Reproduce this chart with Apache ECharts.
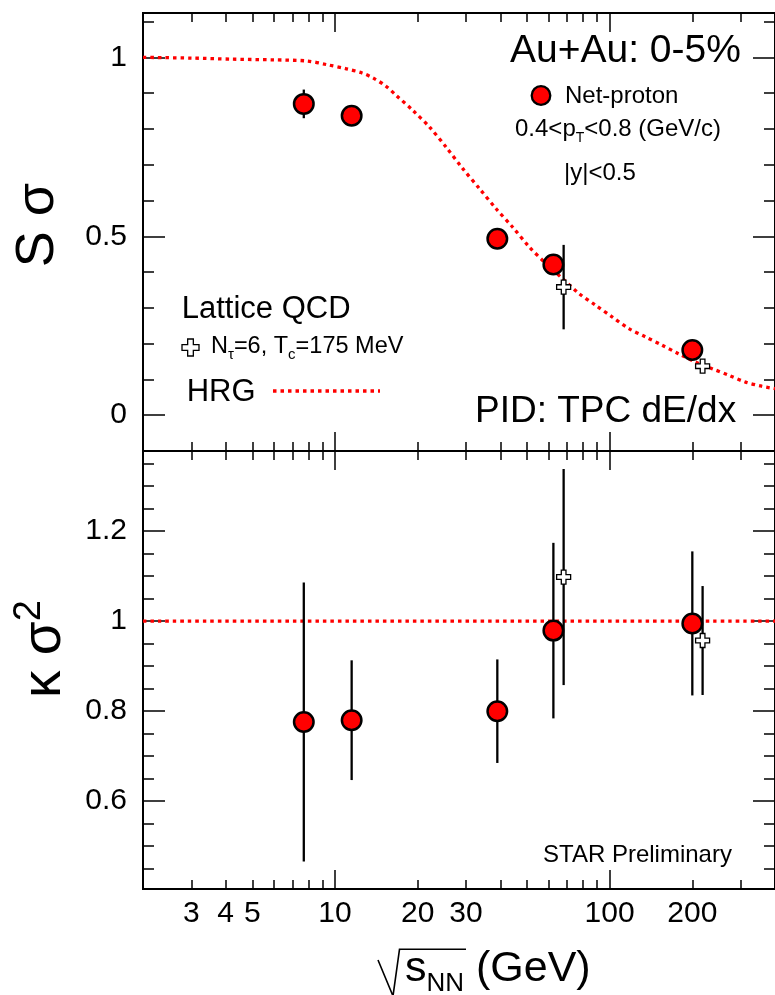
<!DOCTYPE html>
<html>
<head>
<meta charset="utf-8">
<script src="https://cdn.jsdelivr.net/npm/echarts@6.0.0/dist/echarts.min.js"></script>
<style>html,body{margin:0;padding:0;background:#fff;}#chart{width:775px;height:995px;}</style>
</head>
<body>
<div id="chart"></div>
<script>
// ---------------- data ----------------
const energies = [7.7, 11.5, 39, 62.4, 200];
const skewSigma = [0.87, 0.837, 0.493, 0.421, 0.182];
const skewSigmaErr = [0.04, 0.02, 0.02, 0.02, 0.02];
const kurtSigma2 = [0.776, 0.78, 0.80, 0.979, 0.995];
const kurtSigma2Err = [0.31, 0.133, 0.115, 0.195, 0.16];

const latticeEnergies = [68, 218];
const latticeSkew = [0.358, 0.137];
const latticeSkewErr = [0.118, 0];
const latticeKurt = [1.098, 0.957];
const latticeKurtErr = [0.24, 0.121];

const hrgEnergies = [2, 3, 4.2, 6, 7.9, 9.3, 11, 12.5, 13.8, 15.3, 16.7, 19.2, 22.1, 25.4, 29.2, 33.6, 38.6, 44.3, 51, 58.6, 67.3, 77.4, 89, 102, 117.5, 135, 155, 178, 205, 236, 271, 311, 358, 400];
const hrgSkew = [1.0, 0.998, 0.995, 0.993, 0.99, 0.98, 0.968, 0.957, 0.942, 0.92, 0.894, 0.852, 0.805, 0.749, 0.689, 0.633, 0.577, 0.526, 0.47, 0.424, 0.382, 0.34, 0.307, 0.275, 0.242, 0.219, 0.196, 0.172, 0.149, 0.13, 0.112, 0.093, 0.081, 0.074];
const hrgKurtEnergies = [2, 400];
const hrgKurt = [1, 1];

const xLabelValues = [3, 4, 5, 10, 20, 30, 100, 200];
const xMajorTicks = [10, 100];
const xMinorTicks = [3, 4, 5, 6, 7, 8, 9, 20, 30, 40, 50, 60, 70, 80, 90, 200, 300];
const skewLabelValues = [0, 0.5, 1];
const skewMinorTicks = [0.1, 0.2, 0.3, 0.4, 0.6, 0.7, 0.8, 0.9, 1.1];
const kurtLabelValues = [0.6, 0.8, 1, 1.2];
const kurtMinorTicks = [0.45, 0.5, 0.55, 0.65, 0.7, 0.75, 0.85, 0.9, 0.95, 1.05, 1.1, 1.15, 1.25, 1.3, 1.35];

// ---------------- helpers ----------------
const FF = '"Liberation Sans", Arial, Helvetica, sans-serif';
const RED = '#ff0000';
const zip = (a, b) => a.map((v, i) => [v, b[i]]);
const zip3 = (a, b, c) => a.map((v, i) => [v, b[i], c[i]]);
const crossPath = 'path://M1,0L2,0L2,1L3,1L3,2L2,2L2,3L1,3L1,2L0,2L0,1L1,1Z';

function xAx(g, pos, ticks, len, labels) {
  return {
    type: 'log', logBase: 10, min: 2, max: 400, gridIndex: g, position: pos,
    axisLine: { show: false, onZero: false }, splitLine: { show: false }, minorTick: { show: false },
    axisTick: { show: true, inside: true, length: len, customValues: ticks, lineStyle: { color: '#000', width: 1.5 } },
    axisLabel: labels ? { show: true, customValues: labels, formatter: v => String(v), fontSize: 30, color: '#000', fontFamily: FF, margin: 10 } : { show: false }
  };
}
function yAx(g, pos, ticks, len, labels, min, max) {
  return {
    type: 'value', min, max, gridIndex: g, position: pos,
    axisLine: { show: false, onZero: false }, splitLine: { show: false }, minorTick: { show: false },
    axisTick: { show: true, inside: true, length: len, customValues: ticks, lineStyle: { color: '#000', width: 1.5 } },
    axisLabel: labels ? { show: true, customValues: labels, formatter: v => String(v), fontSize: 30, color: '#000', fontFamily: FF, margin: 16 } : { show: false }
  };
}
function errBars(xi, yi, data) {
  return {
    type: 'custom', xAxisIndex: xi, yAxisIndex: yi, data, z: 3, silent: true,
    encode: { x: 0, y: 1 },
    renderItem(params, api) {
      const x = api.value(0), y = api.value(1), e = api.value(2);
      if (!e) return null;
      const a = api.coord([x, y - e]), b = api.coord([x, y + e]);
      return { type: 'line', shape: { x1: a[0], y1: a[1], x2: b[0], y2: b[1] }, style: { stroke: '#000', lineWidth: 2.3 } };
    }
  };
}
function circles(xi, yi, data) {
  return { type: 'scatter', xAxisIndex: xi, yAxisIndex: yi, data, symbol: 'circle', symbolSize: 19.5, z: 4, silent: true,
    itemStyle: { color: RED, borderColor: '#000', borderWidth: 2.5, opacity: 1 } };
}
function crosses(xi, yi, data) {
  return { type: 'scatter', xAxisIndex: xi, yAxisIndex: yi, data, symbol: crossPath, symbolSize: 14, z: 5, silent: true,
    itemStyle: { color: '#fff', borderColor: '#000', borderWidth: 1.3, opacity: 1 } };
}
function hrgLine(xi, yi, data) {
  return { type: 'line', xAxisIndex: xi, yAxisIndex: yi, data, showSymbol: false, symbol: 'none', smooth: 0.3, z: 2, silent: true,
    lineStyle: { color: RED, width: 3.3, type: [3.5, 4], cap: 'butt' } };
}
const K = 0.3465;
function txt(x, baseline, text, size, extra) {
  return { type: 'text', x, y: baseline - K * size, silent: true, z: 10,
    style: Object.assign({ text, fontSize: size, fontFamily: FF, fill: '#000', align: 'left', verticalAlign: 'middle', lineHeight: size }, extra || {}) };
}
function subStyle(size, mainSize, drop) {
  return { fontSize: size, fontFamily: FF, padding: [2 * (drop + K * (mainSize - size)), 0, 0, 0] };
}
function supStyle(size, mainSize, rise) {
  return { fontSize: size, fontFamily: FF, padding: [0, 0, 2 * (rise - K * (mainSize - size)), 0] };
}
function crossPoints(cx, cy, s) {
  const a = s / 6, b = s / 2;
  return [[cx - a, cy - b], [cx + a, cy - b], [cx + a, cy - a], [cx + b, cy - a], [cx + b, cy + a], [cx + a, cy + a],
          [cx + a, cy + b], [cx - a, cy + b], [cx - a, cy + a], [cx - b, cy + a], [cx - b, cy - a], [cx - a, cy - a]];
}

// grids: upper (S sigma), lower (kappa sigma^2)
const grids = [
  { left: 143, top: 13, width: 634, height: 438, show: true, borderColor: '#000', borderWidth: 2, backgroundColor: 'transparent' },
  { left: 143, top: 451, width: 634, height: 438, show: true, borderColor: '#000', borderWidth: 2, backgroundColor: 'transparent' }
];
const xAxes = [
  xAx(0, 'bottom', xMajorTicks, 19, null), xAx(0, 'bottom', xMinorTicks, 9, null),
  xAx(0, 'top', xMajorTicks, 19, null), xAx(0, 'top', xMinorTicks, 9, null),
  xAx(1, 'bottom', xMajorTicks, 19, xLabelValues), xAx(1, 'bottom', xMinorTicks, 9, null),
  xAx(1, 'top', xMajorTicks, 19, null), xAx(1, 'top', xMinorTicks, 9, null)
];
const yAxes = [
  yAx(0, 'left', skewLabelValues, 22, skewLabelValues, -0.1, 1.124), yAx(0, 'left', skewMinorTicks, 11, null, -0.1, 1.124),
  yAx(0, 'right', skewLabelValues, 22, null, -0.1, 1.124), yAx(0, 'right', skewMinorTicks, 11, null, -0.1, 1.124),
  yAx(1, 'left', kurtLabelValues, 22, kurtLabelValues, 0.405, 1.378), yAx(1, 'left', kurtMinorTicks, 11, null, 0.405, 1.378),
  yAx(1, 'right', kurtLabelValues, 22, null, 0.405, 1.378), yAx(1, 'right', kurtMinorTicks, 11, null, 0.405, 1.378)
];

const series = [
  hrgLine(0, 0, zip(hrgEnergies, hrgSkew)),
  errBars(0, 0, zip3(energies, skewSigma, skewSigmaErr)),
  errBars(0, 0, zip3(latticeEnergies, latticeSkew, latticeSkewErr)),
  circles(0, 0, zip(energies, skewSigma)),
  crosses(0, 0, zip(latticeEnergies, latticeSkew)),
  hrgLine(4, 4, zip(hrgKurtEnergies, hrgKurt)),
  errBars(4, 4, zip3(energies, kurtSigma2, kurtSigma2Err)),
  errBars(4, 4, zip3(latticeEnergies, latticeKurt, latticeKurtErr)),
  circles(4, 4, zip(energies, kurtSigma2)),
  crosses(4, 4, zip(latticeEnergies, latticeKurt))
];

const graphic = [
  txt(510, 65, 'Au+Au: 0-5%', 39),
  { type: 'circle', shape: { cx: 541, cy: 95.5, r: 9.3 }, style: { fill: RED, stroke: '#000', lineWidth: 2.3 }, silent: true, z: 10 },
  txt(565, 105, 'Net-proton', 24),
  txt(515, 137.5, '0.4<p{sub|T}<0.8 (GeV/c)', 24, { rich: { sub: subStyle(14, 24, 5) } }),
  txt(564, 181.7, '|y|<0.5', 24),
  txt(475, 425, 'PID: TPC dE/dx', 37),
  txt(181.7, 320, 'Lattice QCD', 31),
  { type: 'polygon', shape: { points: crossPoints(190.5, 347.5, 17) }, style: { fill: '#fff', stroke: '#000', lineWidth: 1.3 }, silent: true, z: 10 },
  txt(211, 355, 'N{sub|τ}=6, T{sub|c}=175 MeV', 23.5, { rich: { sub: subStyle(15, 23.5, 5) } }),
  txt(186.7, 403.3, 'HRG', 31),
  { type: 'line', shape: { x1: 273, y1: 391, x2: 380, y2: 391 }, style: { stroke: RED, lineWidth: 3.3, lineDash: [3.5, 4], lineCap: 'butt' }, silent: true, z: 10 },
  txt(543, 863.7, 'STAR Preliminary', 24),
  // y titles
  { type: 'text', x: 38, y: 225, rotation: Math.PI / 2, silent: true, z: 10,
    style: { text: 'S σ', fontSize: 54, fontFamily: FF, fill: '#000', align: 'center', verticalAlign: 'middle' } },
  { type: 'text', x: 45, y: 649, rotation: Math.PI / 2, silent: true, z: 10,
    style: { text: 'κ σ{sup|2}', fontSize: 55, fontFamily: FF, fill: '#000', align: 'center', verticalAlign: 'middle', lineHeight: 55,
      rich: { sup: supStyle(38, 55, 21) } } },
  // x title: radical + text
  { type: 'polyline', shape: { points: [[378, 960], [393, 996], [399.5, 949.3], [466, 949.3]] }, style: { stroke: '#000', lineWidth: 1.6, fill: null }, silent: true, z: 10 },
  txt(405, 984, 's{sub|NN} (GeV)', 43, { rich: { sub: subStyle(26, 43, 9) } })
];

const chart = echarts.init(document.getElementById('chart'), null, { renderer: 'canvas' });
chart.setOption({
  animation: false,
  backgroundColor: '#fff',
  textStyle: { fontFamily: FF },
  grid: grids,
  xAxis: xAxes,
  yAxis: yAxes,
  series,
  graphic
});
</script>
</body>
</html>
